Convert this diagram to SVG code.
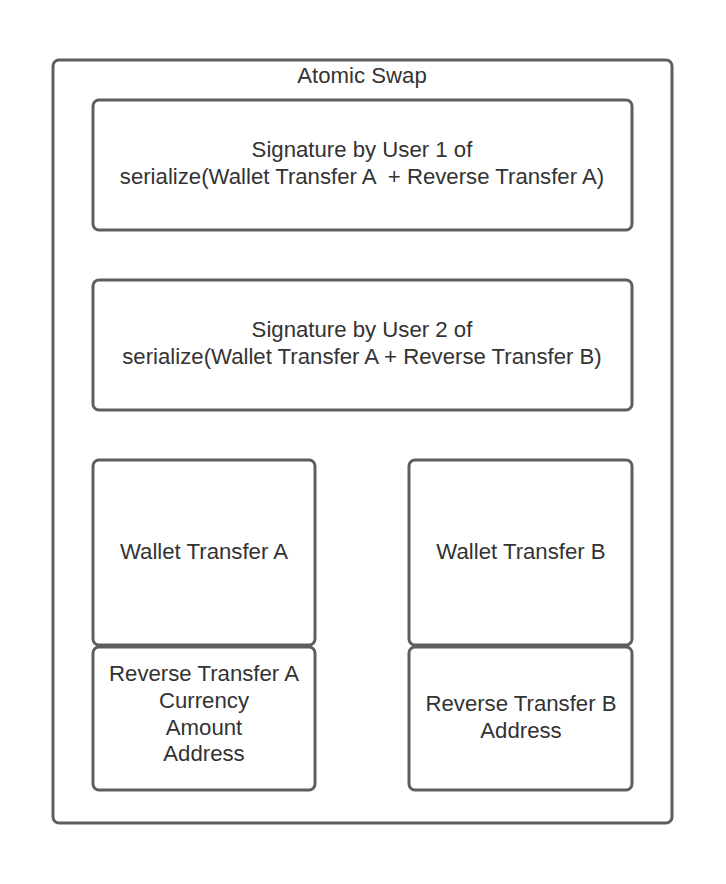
<svg xmlns="http://www.w3.org/2000/svg" width="726" height="884" viewBox="0 0 726 884">
<style>
.box{fill:#ffffff;stroke:#5e5e5e;stroke-width:3}
.t{font-family:"Liberation Sans",Arial,sans-serif;font-size:22.2px;fill:#333333;text-anchor:middle}
</style>
<rect width="726" height="884" fill="#ffffff"/>
<g id="atomic-swap">
<rect class="box" x="53" y="60" width="619" height="763" rx="6"/>
<text class="t" x="362" y="83">Atomic Swap</text>
</g>
<g id="sig1">
<rect class="box" x="93" y="100" width="539" height="130" rx="6"/>
<text class="t" x="362" y="157">Signature by User 1 of</text>
<text class="t" x="362" y="184" xml:space="preserve">serialize(Wallet Transfer A  + Reverse Transfer A)</text>
</g>
<g id="sig2">
<rect class="box" x="93" y="280" width="539" height="130" rx="6"/>
<text class="t" x="362" y="337">Signature by User 2 of</text>
<text class="t" x="362" y="364">serialize(Wallet Transfer A + Reverse Transfer B)</text>
</g>
<g id="wallet-a">
<rect class="box" x="93" y="460" width="222" height="185" rx="6"/>
<text class="t" x="204" y="559">Wallet Transfer A</text>
</g>
<g id="reverse-a">
<rect class="box" x="93" y="647" width="222" height="143" rx="6"/>
<text class="t" x="204" y="681">Reverse Transfer A</text>
<text class="t" x="204" y="708">Currency</text>
<text class="t" x="204" y="735">Amount</text>
<text class="t" x="204" y="761">Address</text>
</g>
<g id="wallet-b">
<rect class="box" x="409" y="460" width="223" height="185" rx="6"/>
<text class="t" x="521" y="559">Wallet Transfer B</text>
</g>
<g id="reverse-b">
<rect class="box" x="409" y="647" width="223" height="143" rx="6"/>
<text class="t" x="521" y="711">Reverse Transfer B</text>
<text class="t" x="521" y="738">Address</text>
</g>
<g id="connectors"></g>
</svg>
